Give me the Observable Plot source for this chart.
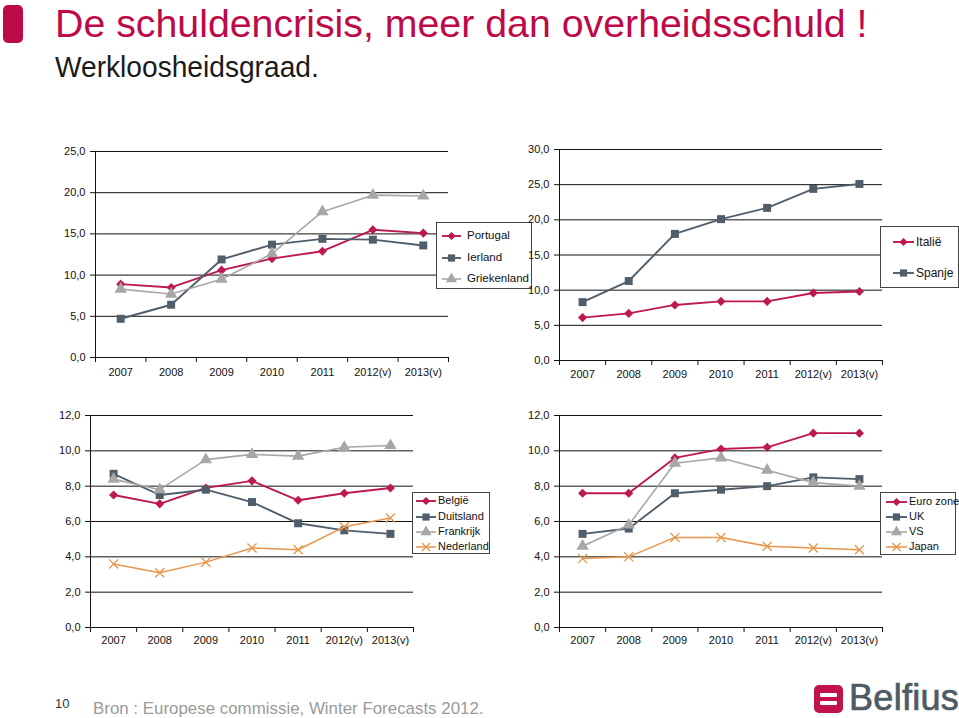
<!DOCTYPE html>
<html><head><meta charset="utf-8">
<script src="https://cdn.jsdelivr.net/npm/d3@7"></script>
<script src="https://cdn.jsdelivr.net/npm/@observablehq/plot@0.6"></script>
<style>
html,body{margin:0;padding:0;background:#fff}
body{width:959px;height:718px;overflow:hidden;position:relative;font-family:"Liberation Sans",Arial,sans-serif}
.abs{position:absolute}
.title{left:55px;top:1px;font-size:39.3px;color:#BE0A48;white-space:nowrap;line-height:44px}
.subtitle{left:55px;top:50px;font-size:29px;color:#1a1a1a;white-space:nowrap;line-height:34px;transform-origin:0 0;transform:scaleX(0.97)}
.mark{left:3px;top:5px;width:20px;height:38px;background:#BE0A48;border-radius:5px}
.legend{background:#fff;border:1px solid #444;box-sizing:border-box}
.legend .item{position:absolute;white-space:nowrap;color:#111}
.legend svg{position:absolute;overflow:visible}
.foot{color:#9a9a9a;font-size:16.9px;left:93px;top:699px;white-space:nowrap;line-height:20px}
.pnum{color:#333;font-size:13px;left:55px;top:696px}
.logo{left:814px;top:685px;width:29px;height:28px;background:#C1134B;border-radius:5px}
.logo i{position:absolute;left:6px;width:17px;height:4px;background:#fff;border-radius:1px}
.brand{left:849px;top:678px;font-size:36px;color:#4E5A64;-webkit-text-stroke:0.7px #4E5A64;line-height:40px;letter-spacing:0.3px}
</style></head><body>
<div class="abs mark"></div>
<div class="abs title">De schuldencrisis, meer dan overheidsschuld !</div>
<div class="abs subtitle">Werkloosheidsgraad.</div>
<div class="abs pnum">10</div>
<div class="abs foot">Bron : Europese commissie, Winter Forecasts 2012.</div>
<div class="abs logo"><i style="top:8px"></i><i style="top:16px"></i></div>
<div class="abs brand">Belfius</div>
<script>
// ---- data ----
const years = ["2007","2008","2009","2010","2011","2012(v)","2013(v)"];
const portugal    = [8.9, 8.5, 10.6, 12.0, 12.9, 15.5, 15.1];
const ierland     = [4.7, 6.4, 11.9, 13.7, 14.4, 14.3, 13.6];
const griekenland = [8.3, 7.7, 9.5, 12.6, 17.7, 19.7, 19.6];
const italie      = [6.1, 6.7, 7.9, 8.4, 8.4, 9.6, 9.8];
const spanje      = [8.3, 11.3, 18.0, 20.1, 21.7, 24.4, 25.1];
const belgie      = [7.5, 7.0, 7.9, 8.3, 7.2, 7.6, 7.9];
const duitsland   = [8.7, 7.5, 7.8, 7.1, 5.9, 5.5, 5.3];
const frankrijk   = [8.4, 7.8, 9.5, 9.8, 9.7, 10.2, 10.3];
const nederland   = [3.6, 3.1, 3.7, 4.5, 4.4, 5.7, 6.2];
const eurozone    = [7.6, 7.6, 9.6, 10.1, 10.2, 11.0, 11.0];
const uk          = [5.3, 5.6, 7.6, 7.8, 8.0, 8.5, 8.4];
const vs          = [4.6, 5.8, 9.3, 9.6, 8.9, 8.2, 8.0];
const japan       = [3.9, 4.0, 5.1, 5.1, 4.6, 4.5, 4.4];

// ---- styles ----
const STY = {
  red:    {color:"#BE1850", symbol:"diamond2", r:4.1, filled:true,  w:1.9},
  slate:  {color:"#4F5E6A", symbol:"square",   r:4.5, filled:true,  w:1.9},
  grey:   {color:"#A7A7A7", symbol:"triangle", r:4.6, filled:true,  w:1.6},
  orange: {color:"#E8964B", symbol:"times",    r:4.2, filled:false, w:1.5}
};

const panels = [
  {series:[{name:"Portugal",v:portugal,s:"red"},{name:"Ierland",v:ierland,s:"slate"},{name:"Griekenland",v:griekenland,s:"grey"}],
   yMax:25, yStep:5, x0:95, x1:448, y0:151, y1:357, lab:17,
   leg:{left:436, top:222, w:96, h:67, ys:[13,35,56], l0:5, l1:24, tx:30, fs:11.5}},
  {series:[{name:"Italië",v:italie,s:"red"},{name:"Spanje",v:spanje,s:"slate"}],
   yMax:30, yStep:5, x0:559, x1:882, y0:149, y1:360, lab:16,
   leg:{left:880, top:226, w:79, h:62, ys:[15,46], l0:12, l1:33, tx:35, fs:12}},
  {series:[{name:"België",v:belgie,s:"red"},{name:"Duitsland",v:duitsland,s:"slate"},{name:"Frankrijk",v:frankrijk,s:"grey"},{name:"Nederland",v:nederland,s:"orange"}],
   yMax:12, yStep:2, x0:90, x1:413, y0:415, y1:627, lab:15,
   leg:{left:412, top:492, w:78, h:62, ys:[8,24,39,54], l0:3, l1:23, tx:25, fs:11}},
  {series:[{name:"Euro zone",v:eurozone,s:"red"},{name:"UK",v:uk,s:"slate"},{name:"VS",v:vs,s:"grey"},{name:"Japan",v:japan,s:"orange"}],
   yMax:12, yStep:2, x0:559, x1:882, y0:415, y1:627, lab:15,
   leg:{left:880, top:492, w:76, h:63, ys:[9,24,39,54], l0:5, l1:26, tx:28, fs:11}}
];

const fmt = d => d.toFixed(1).replace(".", ",");
const ML = 62, MR = 14, MT = 14, MB = 34;

function symbolPath(name, r) {
  const map = {diamond2:d3.symbolDiamond2, square:d3.symbolSquare, triangle:d3.symbolTriangle, times:d3.symbolTimes};
  return d3.symbol(map[name], Math.PI * r * r)();
}

panels.forEach((p, k) => {
  const rows = p.series.flatMap(s => s.v.map((v, i) => ({name:s.name, s:s.s, i:i + 0.5, v})));
  const yTicks = d3.range(0, p.yMax + 1e-9, p.yStep);
  const marks = [
    Plot.gridY(yTicks, {stroke:"#111", strokeOpacity:1, strokeWidth:1}),
    Plot.ruleX([0], {stroke:"#111", strokeWidth:1}),
    Plot.axisY({ticks:yTicks, tickSize:5, tickPadding:5, tickFormat:fmt, fontSize:11, label:null}),
    Plot.axisX({ticks:d3.range(0, years.length + 1), tickSize:5, tickFormat:() => "", label:null}),
    Plot.axisX({ticks:years.map((_, i) => i + 0.5), tickSize:0, tickPadding:p.lab - 6, tickFormat:d => years[Math.floor(d)], fontSize:11, label:null})
  ];
  p.series.forEach(s => {
    const st = STY[s.s];
    const d = rows.filter(r => r.name === s.name);
    marks.push(Plot.line(d, {x:"i", y:"v", stroke:st.color, strokeWidth:st.w}));
    marks.push(Plot.dot(d, st.filled
      ? {x:"i", y:"v", symbol:() => st.symbol, r:st.r, fill:st.color, stroke:"none"}
      : {x:"i", y:"v", symbol:() => st.symbol, r:st.r, fill:"none", stroke:st.color, strokeWidth:1.3}));
  });
  const chart = Plot.plot({
    width: p.x1 - p.x0 + ML + MR,
    height: p.y1 - p.y0 + MT + MB,
    marginLeft: ML, marginRight: MR, marginTop: MT, marginBottom: MB,
    x: {type:"linear", domain:[0, years.length], axis:null},
    y: {domain:[0, p.yMax], axis:null},
    symbol: {type:"identity"},
    style: {background:"transparent", color:"#111", fontFamily:"'Liberation Sans', Arial, sans-serif", fontSize:"11px", overflow:"visible"},
    marks
  });
  chart.style.position = "absolute";
  chart.style.left = (p.x0 - ML) + "px";
  chart.style.top = (p.y0 - MT) + "px";
  chart.style.zIndex = 1 + k;
  document.body.appendChild(chart);

  // legend
  const L = p.leg;
  const box = document.createElement("div");
  box.className = "abs legend";
  Object.assign(box.style, {left:L.left + "px", top:L.top + "px", width:L.w + "px", height:L.h + "px", zIndex: 1 + k});
  p.series.forEach((s, j) => {
    const st = STY[s.s];
    const y = L.ys[j];
    const svg = d3.create("svg").attr("width", 1).attr("height", 1)
      .style("left", "0px").style("top", y + "px");
    svg.append("line").attr("x1", L.l0).attr("x2", L.l1).attr("y1", 0).attr("y2", 0)
      .attr("stroke", st.color).attr("stroke-width", st.w);
    svg.append("path").attr("d", symbolPath(st.symbol, st.r * 0.9))
      .attr("transform", `translate(${(L.l0 + L.l1) / 2},0)`)
      .attr("fill", st.filled ? st.color : "none")
      .attr("stroke", st.filled ? "none" : st.color).attr("stroke-width", 1.3);
    box.appendChild(svg.node());
    const t = document.createElement("div");
    t.className = "item";
    t.textContent = s.name;
    Object.assign(t.style, {left:L.tx + "px", top:(y - L.fs * 0.62) + "px", fontSize:L.fs + "px", lineHeight:(L.fs * 1.2) + "px"});
    box.appendChild(t);
  });
  document.body.appendChild(box);
});
</script>
</body></html>
